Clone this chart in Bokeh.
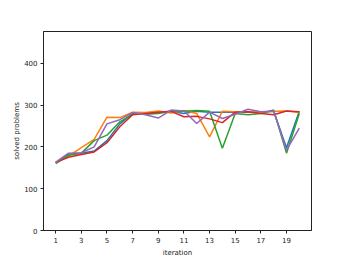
from bokeh.plotting import figure
from bokeh.models import Range1d, FixedTicker
from bokeh.embed import file_html
from bokeh.resources import INLINE

iterations = list(range(1, 21))
run_blue = [163, 183, 185, 190, 215, 255, 280, 280, 282, 285, 280, 285, 283, 283, 283, 283, 283, 285, 198, 285]
run_orange = [163, 178, 198, 218, 271, 270, 283, 282, 286, 281, 287, 280, 224, 285, 284, 284, 283, 285, 286, 282]
run_green = [160, 180, 185, 215, 228, 260, 278, 278, 280, 285, 285, 287, 285, 197, 280, 277, 280, 288, 185, 280]
run_red = [163, 175, 182, 188, 210, 248, 277, 280, 283, 285, 272, 273, 267, 258, 283, 284, 280, 277, 286, 284]
run_purple = [163, 185, 186, 200, 255, 265, 282, 277, 269, 288, 286, 256, 283, 268, 278, 290, 284, 286, 192, 245]
x_ticks = [1, 3, 5, 7, 9, 11, 13, 15, 17, 19]
y_ticks = [0, 100, 200, 300, 400]

series = [run_blue, run_orange, run_green, run_red, run_purple]
colors = ["#1f77b4", "#ff7f0e", "#2ca02c", "#d62728", "#9467bd"]

p = figure(frame_width=268, frame_height=199, output_backend="svg", toolbar_location=None,
           x_range=Range1d(0.05, 20.95), y_range=Range1d(0, 476),
           min_border_left=43, min_border_right=27, min_border_top=31, min_border_bottom=20)
for ys, c in zip(series, colors):
    p.line(iterations, ys, line_color=c, line_width=1.5)

p.xgrid.visible = False
p.ygrid.visible = False
p.outline_line_color = "#222222"
p.outline_line_width = 1
p.xaxis.ticker = FixedTicker(ticks=x_ticks)
p.yaxis.ticker = FixedTicker(ticks=y_ticks)
p.xaxis.minor_tick_line_color = None
p.yaxis.minor_tick_line_color = None
for ax in (p.xaxis, p.yaxis):
    ax.axis_line_color = "#222222"
    ax.major_tick_line_color = "#222222"
    ax.major_tick_in = 0
    ax.major_tick_out = 3
    ax.major_label_text_font = "DejaVu Sans"
    ax.major_label_text_font_size = "7px"
    ax.major_label_text_color = "#222222"
    ax.axis_label_text_font = "DejaVu Sans"
    ax.axis_label_text_font_size = "7px"
    ax.axis_label_text_font_style = "normal"
    ax.axis_label_text_color = "#222222"
    ax.major_label_standoff = 3
    ax.axis_label_standoff = 3
p.yaxis.axis_label_standoff = 0
p.xaxis.axis_label = "iteration"
p.yaxis.axis_label = "solved problems"

open("out.html", "w").write(file_html(p, INLINE))
